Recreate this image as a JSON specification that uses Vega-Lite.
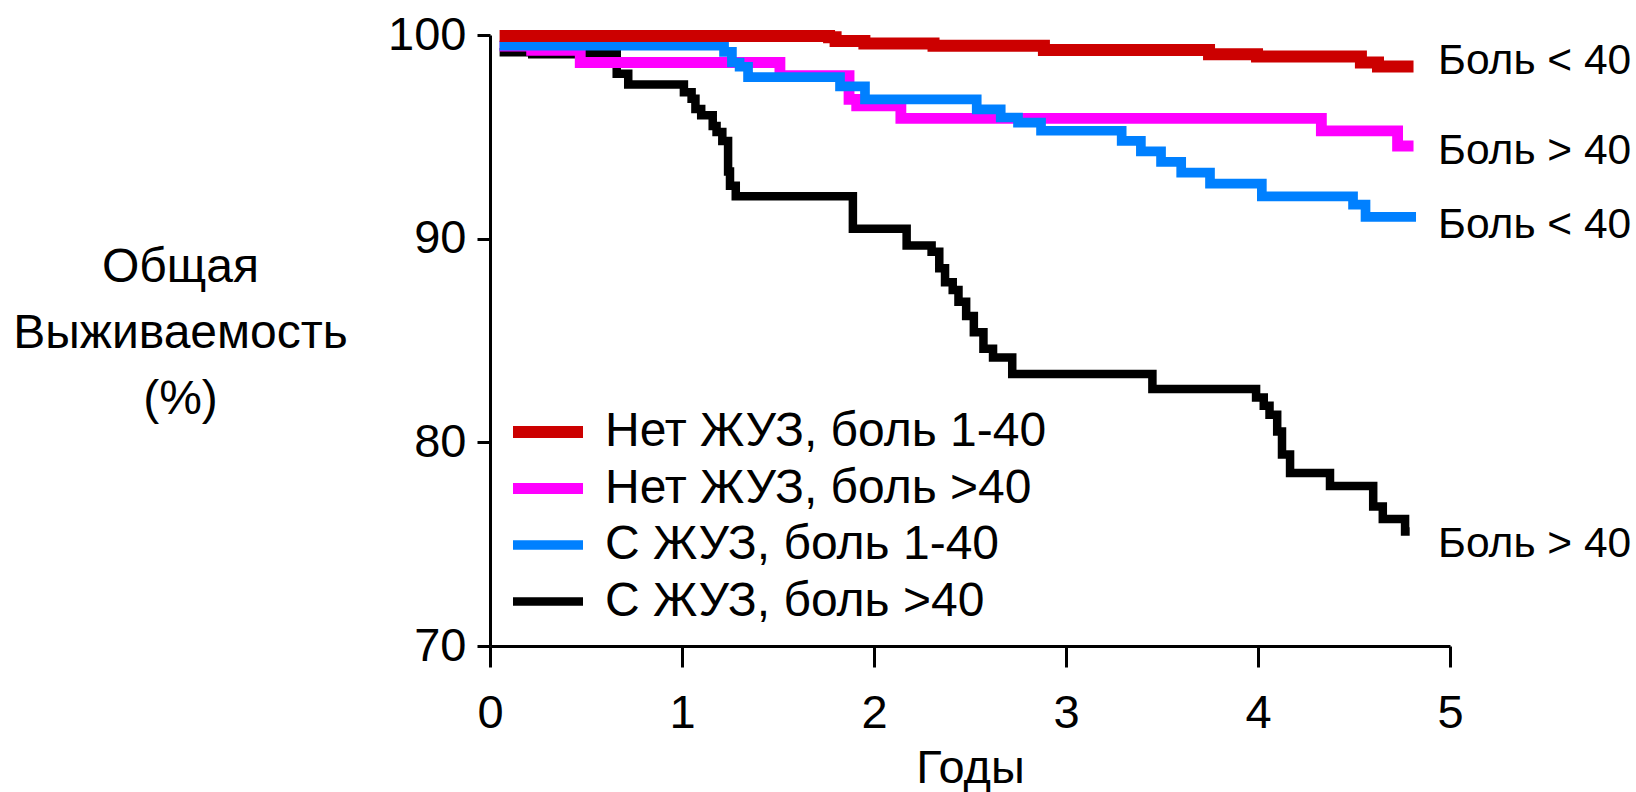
{
  "$schema": "https://vega.github.io/schema/vega-lite/v6.json",
  "width": 960,
  "height": 611,
  "autosize": {"type": "none"},
  "padding": {"left": 490, "top": 35, "right": 186, "bottom": 146},
  "background": "white",
  "config": {"view": {"stroke": null}, "font": "Liberation Sans"},
  "datasets": {
    "curves": [
      {"group": "С ЖУЗ, боль >40", "t": 0.05, "v": 99.15},
      {"group": "С ЖУЗ, боль >40", "t": 0.22, "v": 99.05},
      {"group": "С ЖУЗ, боль >40", "t": 0.66, "v": 98.1},
      {"group": "С ЖУЗ, боль >40", "t": 0.72, "v": 97.57},
      {"group": "С ЖУЗ, боль >40", "t": 1.01, "v": 97.19},
      {"group": "С ЖУЗ, боль >40", "t": 1.05, "v": 96.87},
      {"group": "С ЖУЗ, боль >40", "t": 1.07, "v": 96.37},
      {"group": "С ЖУЗ, боль >40", "t": 1.1, "v": 96.06},
      {"group": "С ЖУЗ, боль >40", "t": 1.16, "v": 95.53},
      {"group": "С ЖУЗ, боль >40", "t": 1.18, "v": 95.24},
      {"group": "С ЖУЗ, боль >40", "t": 1.21, "v": 94.8},
      {"group": "С ЖУЗ, боль >40", "t": 1.24, "v": 93.3},
      {"group": "С ЖУЗ, боль >40", "t": 1.25, "v": 92.6},
      {"group": "С ЖУЗ, боль >40", "t": 1.28, "v": 92.08},
      {"group": "С ЖУЗ, боль >40", "t": 1.89, "v": 90.49},
      {"group": "С ЖУЗ, боль >40", "t": 2.17, "v": 89.67},
      {"group": "С ЖУЗ, боль >40", "t": 2.3, "v": 89.36},
      {"group": "С ЖУЗ, боль >40", "t": 2.34, "v": 88.55},
      {"group": "С ЖУЗ, боль >40", "t": 2.37, "v": 87.86},
      {"group": "С ЖУЗ, боль >40", "t": 2.41, "v": 87.48},
      {"group": "С ЖУЗ, боль >40", "t": 2.44, "v": 86.9},
      {"group": "С ЖУЗ, боль >40", "t": 2.48, "v": 86.2},
      {"group": "С ЖУЗ, боль >40", "t": 2.52, "v": 85.4},
      {"group": "С ЖУЗ, боль >40", "t": 2.57, "v": 84.6},
      {"group": "С ЖУЗ, боль >40", "t": 2.62, "v": 84.17},
      {"group": "С ЖУЗ, боль >40", "t": 2.72, "v": 83.36},
      {"group": "С ЖУЗ, боль >40", "t": 3.45, "v": 82.62},
      {"group": "С ЖУЗ, боль >40", "t": 3.99, "v": 82.2},
      {"group": "С ЖУЗ, боль >40", "t": 4.03, "v": 81.8},
      {"group": "С ЖУЗ, боль >40", "t": 4.06, "v": 81.35},
      {"group": "С ЖУЗ, боль >40", "t": 4.1, "v": 80.53},
      {"group": "С ЖУЗ, боль >40", "t": 4.125, "v": 79.4},
      {"group": "С ЖУЗ, боль >40", "t": 4.167, "v": 78.5},
      {"group": "С ЖУЗ, боль >40", "t": 4.375, "v": 77.85},
      {"group": "С ЖУЗ, боль >40", "t": 4.6, "v": 76.85},
      {"group": "С ЖУЗ, боль >40", "t": 4.65, "v": 76.24},
      {"group": "С ЖУЗ, боль >40", "t": 4.766, "v": 75.62},
      {"group": "С ЖУЗ, боль >40", "t": 4.79, "v": 75.62},

      {"group": "Нет ЖУЗ, боль >40", "t": 0.05, "v": 99.45},
      {"group": "Нет ЖУЗ, боль >40", "t": 0.217, "v": 99.25},
      {"group": "Нет ЖУЗ, боль >40", "t": 0.47, "v": 98.65},
      {"group": "Нет ЖУЗ, боль >40", "t": 1.51, "v": 98.0},
      {"group": "Нет ЖУЗ, боль >40", "t": 1.87, "v": 96.84},
      {"group": "Нет ЖУЗ, боль >40", "t": 1.91, "v": 96.52},
      {"group": "Нет ЖУЗ, боль >40", "t": 2.14, "v": 95.91},
      {"group": "Нет ЖУЗ, боль >40", "t": 4.33, "v": 95.29},
      {"group": "Нет ЖУЗ, боль >40", "t": 4.727, "v": 94.55},
      {"group": "Нет ЖУЗ, боль >40", "t": 4.81, "v": 94.55},

      {"group": "С ЖУЗ, боль 1-40", "t": 0.05, "v": 99.48},
      {"group": "С ЖУЗ, боль 1-40", "t": 1.219, "v": 99.17},
      {"group": "С ЖУЗ, боль 1-40", "t": 1.26, "v": 98.65},
      {"group": "С ЖУЗ, боль 1-40", "t": 1.3, "v": 98.44},
      {"group": "С ЖУЗ, боль 1-40", "t": 1.344, "v": 97.93},
      {"group": "С ЖУЗ, боль 1-40", "t": 1.823, "v": 97.48},
      {"group": "С ЖУЗ, боль 1-40", "t": 1.953, "v": 96.84},
      {"group": "С ЖУЗ, боль 1-40", "t": 2.535, "v": 96.35},
      {"group": "С ЖУЗ, боль 1-40", "t": 2.66, "v": 95.95},
      {"group": "С ЖУЗ, боль 1-40", "t": 2.75, "v": 95.7},
      {"group": "С ЖУЗ, боль 1-40", "t": 2.87, "v": 95.3},
      {"group": "С ЖУЗ, боль 1-40", "t": 3.29, "v": 94.8},
      {"group": "С ЖУЗ, боль 1-40", "t": 3.39, "v": 94.29},
      {"group": "С ЖУЗ, боль 1-40", "t": 3.495, "v": 93.77},
      {"group": "С ЖУЗ, боль 1-40", "t": 3.6, "v": 93.24},
      {"group": "С ЖУЗ, боль 1-40", "t": 3.75, "v": 92.7},
      {"group": "С ЖУЗ, боль 1-40", "t": 4.02, "v": 92.08},
      {"group": "С ЖУЗ, боль 1-40", "t": 4.495, "v": 91.67},
      {"group": "С ЖУЗ, боль 1-40", "t": 4.56, "v": 91.07},
      {"group": "С ЖУЗ, боль 1-40", "t": 4.823, "v": 91.07},

      {"group": "Нет ЖУЗ, боль 1-40", "t": 0.05, "v": 99.95},
      {"group": "Нет ЖУЗ, боль 1-40", "t": 1.766, "v": 99.89},
      {"group": "Нет ЖУЗ, боль 1-40", "t": 1.8, "v": 99.7},
      {"group": "Нет ЖУЗ, боль 1-40", "t": 1.95, "v": 99.58},
      {"group": "Нет ЖУЗ, боль 1-40", "t": 2.31, "v": 99.47},
      {"group": "Нет ЖУЗ, боль 1-40", "t": 2.885, "v": 99.26},
      {"group": "Нет ЖУЗ, боль 1-40", "t": 3.745, "v": 99.06},
      {"group": "Нет ЖУЗ, боль 1-40", "t": 3.995, "v": 98.94},
      {"group": "Нет ЖУЗ, боль 1-40", "t": 4.536, "v": 98.65},
      {"group": "Нет ЖУЗ, боль 1-40", "t": 4.625, "v": 98.45},
      {"group": "Нет ЖУЗ, боль 1-40", "t": 4.81, "v": 98.45}
    ],
    "labels": [
      {"label": "Боль < 40", "t": 4.9375, "v": 98.73},
      {"label": "Боль > 40", "t": 4.9375, "v": 94.29},
      {"label": "Боль < 40", "t": 4.9375, "v": 90.65},
      {"label": "Боль > 40", "t": 4.9375, "v": 75.02}
    ]
  },
  "layer": [
    {
      "data": {"name": "curves"},
      "mark": {"type": "line", "interpolate": "step-after", "strokeCap": "butt", "strokeJoin": "miter"},
      "encoding": {
        "x": {
          "field": "t", "type": "quantitative",
          "scale": {"domain": [0, 5], "nice": false, "zero": false},
          "axis": {
            "values": [0, 1, 2, 3, 4, 5], "format": "d", "grid": false,
            "tickSize": 21, "tickWidth": 3, "tickColor": "black",
            "domainWidth": 3, "domainColor": "black",
            "labelFontSize": 47, "labelFont": "Liberation Sans", "labelColor": "black",
            "labelPadding": 23, "labelFlush": false, "labelOverlap": false,
            "title": "Годы", "titleFontSize": 47, "titleFont": "Liberation Sans",
            "titleFontWeight": "normal", "titleColor": "black",
            "titleBaseline": "alphabetic", "titleY": 136
          }
        },
        "y": {
          "field": "v", "type": "quantitative",
          "scale": {"domain": [70, 100], "nice": false, "zero": false},
          "axis": {
            "values": [70, 80, 90, 100], "grid": false,
            "tickSize": 13, "tickWidth": 3, "tickColor": "black",
            "domainWidth": 3, "domainColor": "black",
            "labelFontSize": 47, "labelFont": "Liberation Sans", "labelColor": "black",
            "labelPadding": 11, "labelFlush": false, "labelOverlap": false,
            "title": ["Общая", "Выживаемость", "(%)"],
            "titleFontSize": 48, "titleFont": "Liberation Sans",
            "titleFontWeight": "normal", "titleColor": "black",
            "titleAngle": 0, "titleAlign": "center", "titleBaseline": "alphabetic",
            "titleX": -310, "titleY": 246, "titleLineHeight": 66
          }
        },
        "color": {
          "field": "group", "type": "nominal",
          "scale": {
            "domain": ["Нет ЖУЗ, боль 1-40", "Нет ЖУЗ, боль >40", "С ЖУЗ, боль 1-40", "С ЖУЗ, боль >40"],
            "range": ["#CC0000", "#FF00FF", "#0080FF", "#000000"]
          },
          "legend": {
            "orient": "none", "legendX": 9, "legendY": 373, "title": null,
            "symbolType": "M-1,0H6", "symbolSize": 400, "symbolStrokeWidth": 11,
            "symbolOpacity": 1,
            "labelFontSize": 48, "labelFont": "Liberation Sans", "labelColor": "black",
            "labelOffset": 58, "rowPadding": 8.5, "padding": 0, "labelLimit": 0
          }
        },
        "strokeWidth": {
          "field": "group", "type": "nominal",
          "scale": {
            "domain": ["Нет ЖУЗ, боль 1-40", "Нет ЖУЗ, боль >40", "С ЖУЗ, боль 1-40", "С ЖУЗ, боль >40"],
            "range": [12, 8.5, 9.5, 10.5]
          },
          "legend": null
        }
      }
    },
    {
      "data": {"name": "labels"},
      "mark": {"type": "text", "align": "left", "baseline": "middle", "fontSize": 42.5, "font": "Liberation Sans", "color": "black"},
      "encoding": {
        "x": {"field": "t", "type": "quantitative"},
        "y": {"field": "v", "type": "quantitative"},
        "text": {"field": "label"}
      }
    }
  ]
}
